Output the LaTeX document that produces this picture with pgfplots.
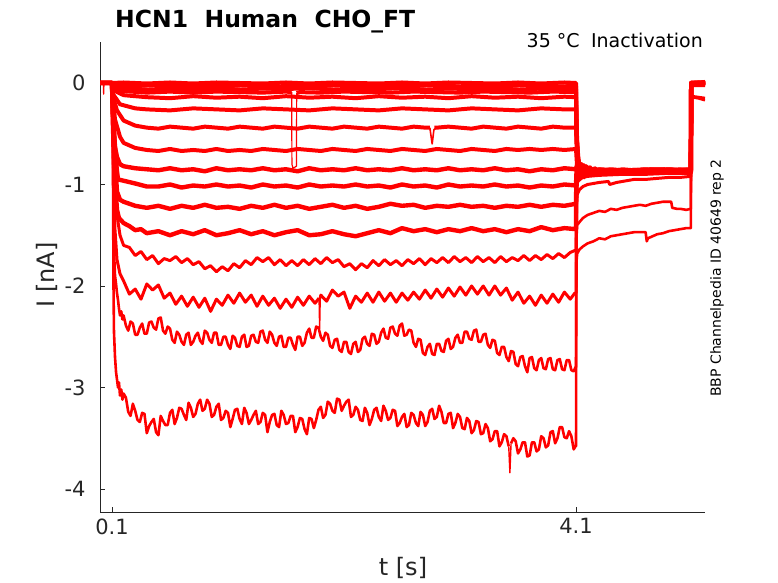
\documentclass[border=0pt]{standalone}
\usepackage{pgfplots}
\pgfplotsset{compat=1.18}
\usepackage{fontspec}
\setmainfont{DejaVu Sans}
\definecolor{axgray}{HTML}{262626}
\begin{document}
\begin{tikzpicture}[x=1bp,y=1bp]
\path[use as bounding box] (0,0) rectangle (778,583);
\begin{axis}[
  at={(100bp,71bp)}, anchor=south west,
  width=605bp, height=470bp, scale only axis,
  xmin=-0.0034, xmax=5.212, ymin=-4.2266, ymax=0.404,
  axis x line*=bottom, axis y line*=left,
  axis line style={axgray, line width=0.6pt, -},
  xtick={0.1,4.1}, xticklabels={0.1,4.1},
  ytick={-4,-3,-2,-1,0}, yticklabels={-4,-3,-2,-1,0},
  tick align=inside, major tick length=5bp,
  tick style={axgray, line width=0.6pt},
  ticklabel style={font=\fontsize{21bp}{25bp}\selectfont, text=axgray},
  yticklabel style={xshift=-11bp},
  xticklabel style={yshift=-3bp},
  /pgf/number format/assume math mode=true,
  every axis plot/.append style={red, no markers, line join=round},
]
% T1
\addplot[line width=4pt] coordinates {(-0.0034,0.00)(0.02,0.00)(0.1,0.00)(0.2,0.005)(0.4,-0.005)(0.6,0.005)(0.8,-0.005)(1.0,0.005)(1.2,0.0)(1.4,-0.005)(1.6,0.005)(1.8,-0.005)(2.0,0.005)(2.2,0.0)(2.4,-0.005)(2.6,0.005)(2.8,-0.005)(3.0,0.005)(3.2,0.0)(3.4,-0.005)(3.6,0.005)(3.8,-0.005)(4.0,0.005)(4.1,0.0)(4.104,-0.35)(4.11,-0.58)(4.12,-0.74)(4.135,-0.84)(4.15,-0.92)(4.17,-0.81)(4.19,-0.90)(4.22,-0.83)(4.26,-0.88)(4.3,-0.85)(4.4,-0.87)(4.5,-0.85)(4.6,-0.86)(4.7,-0.85)(4.8,-0.86)(4.9,-0.85)(5.0,-0.86)(5.09,-0.85)(5.093,0.0)(5.15,0.005)(5.212,0.0)};
\addplot[line width=1.2pt] coordinates {(0.022,0.00)(0.025,-0.01)(0.028,-0.11)(0.031,-0.01)(0.034,0.00)};
% T2
\addplot[line width=4pt] coordinates {(-0.0034,0.0)(0.1,0.0)(0.105,-0.02)(0.3,-0.03)(0.5,-0.02)(0.7,-0.035)(0.9,-0.025)(1.1,-0.03)(1.3,-0.02)(1.5,-0.035)(1.7,-0.025)(1.9,-0.03)(2.1,-0.02)(2.3,-0.035)(2.5,-0.025)(2.7,-0.03)(2.9,-0.02)(3.1,-0.035)(3.3,-0.025)(3.5,-0.03)(3.7,-0.02)(3.9,-0.035)(4.1,-0.03)(4.104,-0.40)(4.11,-0.62)(4.12,-0.78)(4.135,-0.90)(4.15,-0.80)(4.17,-0.93)(4.19,-0.83)(4.22,-0.89)(4.26,-0.84)(4.3,-0.87)(4.4,-0.85)(4.6,-0.87)(4.8,-0.86)(5.09,-0.87)(5.093,-0.01)(5.212,-0.01)};
% T3
\addplot[line width=4pt] coordinates {(-0.0034,0.0)(0.1,0.0)(0.105,-0.03)(0.2,-0.05)(0.4,-0.065)(0.6,-0.055)(0.8,-0.065)(1.0,-0.05)(1.2,-0.065)(1.4,-0.055)(1.6,-0.06)(1.8,-0.05)(2.0,-0.065)(2.2,-0.055)(2.4,-0.06)(2.6,-0.05)(2.8,-0.065)(3.0,-0.055)(3.2,-0.06)(3.4,-0.05)(3.6,-0.065)(3.8,-0.055)(4.0,-0.06)(4.1,-0.06)(4.104,-0.42)(4.11,-0.64)(4.12,-0.80)(4.135,-0.93)(4.15,-0.82)(4.17,-0.89)(4.19,-0.84)(4.22,-0.88)(4.26,-0.85)(4.3,-0.86)(4.5,-0.87)(4.7,-0.86)(4.9,-0.87)(5.09,-0.86)(5.093,0.0)(5.212,0.0)};
% T4 (with artifact, drawn thin)
\addplot[line width=4pt] coordinates {(-0.0034,0.0)(0.1,0.0)(0.105,-0.05)(0.2,-0.08)(0.4,-0.095)(0.6,-0.085)(0.8,-0.095)(1.0,-0.085)(1.2,-0.09)(1.4,-0.095)(1.6,-0.085)(1.649,-0.09)};
\addplot[line width=1.2pt] coordinates {(1.649,-0.09)(1.651,-0.80)(1.66,-0.84)(1.69,-0.82)(1.692,-0.10)};
\addplot[line width=4pt] coordinates {(1.692,-0.10)(1.72,-0.09)(1.9,-0.095)(2.1,-0.085)(2.3,-0.09)(2.5,-0.095)(2.7,-0.085)(2.9,-0.09)(3.1,-0.095)(3.3,-0.085)(3.5,-0.09)(3.7,-0.095)(3.9,-0.085)(4.1,-0.09)(4.104,-0.45)(4.11,-0.66)(4.12,-0.81)(4.135,-0.88)(4.15,-0.84)(4.17,-0.90)(4.2,-0.85)(4.25,-0.88)(4.3,-0.86)(4.5,-0.86)(4.8,-0.87)(5.09,-0.86)(5.093,-0.02)(5.212,-0.02)};
% T5
\addplot[line width=4pt] coordinates {(-0.0034,0.0)(0.1,0.0)(0.109,-0.07)(0.2,-0.12)(0.4,-0.14)(0.6,-0.15)(0.8,-0.13)(1.0,-0.145)(1.2,-0.135)(1.4,-0.15)(1.6,-0.13)(1.8,-0.145)(2.0,-0.135)(2.2,-0.15)(2.4,-0.13)(2.6,-0.145)(2.8,-0.135)(3.0,-0.15)(3.2,-0.13)(3.4,-0.145)(3.6,-0.135)(3.8,-0.15)(4.0,-0.135)(4.1,-0.14)(4.104,-0.46)(4.11,-0.66)(4.12,-0.79)(4.135,-0.87)(4.15,-0.81)(4.17,-0.89)(4.2,-0.84)(4.25,-0.87)(4.3,-0.85)(4.5,-0.86)(4.8,-0.85)(5.09,-0.86)(5.093,-0.01)(5.212,0.0)};
% T6
\addplot[line width=4pt] coordinates {(-0.0034,0.0)(0.1,0.0)(0.109,-0.11)(0.169,-0.21)(0.3,-0.25)(0.4,-0.26)(0.6,-0.27)(0.8,-0.25)(1.0,-0.26)(1.2,-0.27)(1.4,-0.25)(1.6,-0.26)(1.8,-0.27)(2.0,-0.25)(2.2,-0.26)(2.4,-0.27)(2.6,-0.25)(2.8,-0.26)(3.0,-0.27)(3.2,-0.25)(3.4,-0.26)(3.6,-0.27)(3.8,-0.25)(4.0,-0.26)(4.1,-0.26)(4.104,-0.45)(4.11,-0.62)(4.12,-0.76)(4.135,-0.86)(4.15,-0.83)(4.17,-0.90)(4.2,-0.84)(4.25,-0.88)(4.3,-0.86)(4.6,-0.86)(5.09,-0.85)(5.093,-0.01)(5.212,0.0)};
% T7
\addplot[line width=4pt] coordinates {(-0.0034,0.0)(0.1,0.0)(0.109,-0.14)(0.143,-0.27)(0.2,-0.37)(0.3,-0.42)(0.4,-0.44)(0.5,-0.45)(0.6,-0.43)(0.7,-0.44)(0.8,-0.45)(0.9,-0.43)(1.0,-0.44)(1.1,-0.45)(1.2,-0.43)(1.3,-0.44)(1.4,-0.45)(1.5,-0.43)(1.6,-0.44)(1.7,-0.45)(1.8,-0.43)(1.9,-0.44)(2.0,-0.45)(2.1,-0.43)(2.2,-0.44)(2.3,-0.45)(2.4,-0.43)(2.5,-0.44)(2.6,-0.45)(2.7,-0.43)(2.8,-0.44)(2.84,-0.44)};
\addplot[line width=1.6pt] coordinates {(2.84,-0.44)(2.86,-0.60)(2.875,-0.46)(2.9,-0.44)};
\addplot[line width=4pt] coordinates {(2.88,-0.44)(2.9,-0.44)(3.0,-0.43)(3.1,-0.44)(3.2,-0.45)(3.3,-0.43)(3.4,-0.44)(3.5,-0.45)(3.6,-0.43)(3.7,-0.44)(3.8,-0.45)(3.9,-0.43)(4.0,-0.44)(4.1,-0.44)(4.104,-0.6)(4.11,-0.75)(4.12,-0.85)(4.135,-0.95)(4.15,-0.80)(4.17,-0.92)(4.19,-0.82)(4.22,-0.89)(4.26,-0.84)(4.3,-0.87)(4.5,-0.86)(4.8,-0.87)(5.09,-0.86)(5.093,0.0)(5.212,0.0)};
% T8
\addplot[line width=4pt] coordinates {(-0.0034,0.0)(0.1,0.0)(0.109,-0.17)(0.126,-0.36)(0.169,-0.53)(0.2,-0.59)(0.3,-0.64)(0.4,-0.66)(0.5,-0.67)(0.6,-0.65)(0.7,-0.67)(0.8,-0.66)(0.9,-0.67)(1.0,-0.65)(1.1,-0.67)(1.2,-0.66)(1.3,-0.67)(1.4,-0.65)(1.5,-0.66)(1.6,-0.67)(1.7,-0.65)(1.8,-0.66)(1.9,-0.67)(2.0,-0.65)(2.1,-0.66)(2.2,-0.67)(2.3,-0.65)(2.4,-0.66)(2.5,-0.67)(2.6,-0.65)(2.7,-0.66)(2.8,-0.67)(2.9,-0.65)(3.0,-0.66)(3.1,-0.67)(3.2,-0.65)(3.3,-0.66)(3.4,-0.67)(3.5,-0.65)(3.6,-0.66)(3.7,-0.65)(3.8,-0.66)(3.9,-0.65)(4.0,-0.66)(4.1,-0.65)(4.105,-0.75)(4.11,-0.82)(4.12,-0.93)(4.13,-0.79)(4.15,-0.92)(4.17,-0.82)(4.2,-0.89)(4.25,-0.85)(4.3,-0.87)(4.5,-0.86)(4.8,-0.85)(5.09,-0.86)(5.093,0.0)(5.212,0.01)};
% T9
\addplot[line width=4.4pt] coordinates {(-0.0034,0.0)(0.1,0.0)(0.109,-0.27)(0.117,-0.47)(0.126,-0.63)(0.143,-0.73)(0.169,-0.80)(0.2,-0.82)(0.3,-0.84)(0.4,-0.85)(0.5,-0.86)(0.6,-0.84)(0.7,-0.86)(0.8,-0.85)(0.9,-0.87)(1.0,-0.84)(1.1,-0.86)(1.2,-0.85)(1.3,-0.86)(1.4,-0.84)(1.5,-0.86)(1.6,-0.85)(1.7,-0.87)(1.8,-0.84)(1.9,-0.86)(2.0,-0.85)(2.1,-0.86)(2.2,-0.84)(2.3,-0.86)(2.4,-0.85)(2.5,-0.86)(2.6,-0.84)(2.7,-0.86)(2.8,-0.85)(2.9,-0.86)(3.0,-0.84)(3.1,-0.86)(3.2,-0.85)(3.3,-0.86)(3.4,-0.84)(3.5,-0.86)(3.6,-0.85)(3.7,-0.87)(3.8,-0.85)(3.9,-0.86)(4.0,-0.84)(4.1,-0.85)(4.11,-0.80)(4.12,-0.93)(4.135,-0.80)(4.15,-0.91)(4.17,-0.83)(4.2,-0.88)(4.25,-0.85)(4.3,-0.87)(4.5,-0.86)(4.7,-0.86)(5.09,-0.86)(5.093,0.0)(5.212,0.0)};
% T10
\addplot[line width=4.4pt] coordinates {(-0.0034,0.0)(0.1,0.0)(0.109,-0.31)(0.126,-0.66)(0.143,-0.87)(0.152,-0.95)(0.3,-0.99)(0.4,-1.02)(0.5,-1.02)(0.6,-1.00)(0.7,-1.03)(0.8,-1.01)(0.9,-1.02)(1.0,-1.00)(1.1,-1.02)(1.2,-1.01)(1.3,-1.03)(1.4,-1.00)(1.5,-1.02)(1.6,-1.01)(1.7,-1.03)(1.8,-1.00)(1.9,-1.02)(2.0,-1.01)(2.1,-1.02)(2.2,-1.00)(2.3,-1.02)(2.4,-1.01)(2.5,-1.03)(2.6,-1.00)(2.7,-1.02)(2.8,-1.01)(2.9,-1.03)(3.0,-1.00)(3.1,-1.02)(3.2,-1.01)(3.3,-1.02)(3.4,-1.00)(3.5,-1.02)(3.6,-1.01)(3.7,-1.03)(3.8,-1.01)(3.9,-1.02)(4.0,-1.00)(4.1,-1.01)(4.103,-0.90)(4.11,-0.82)(4.12,-0.92)(4.13,-0.84)(4.15,-0.89)(4.17,-0.85)(4.2,-0.88)(4.3,-0.86)(4.5,-0.87)(4.7,-0.86)(5.09,-0.87)(5.093,-0.01)(5.212,0.0)};
% T11
\addplot[line width=4.4pt] coordinates {(-0.0034,0.0)(0.1,0.0)(0.109,-0.37)(0.126,-0.76)(0.143,-1.07)(0.169,-1.15)(0.2,-1.17)(0.3,-1.21)(0.4,-1.23)(0.5,-1.21)(0.6,-1.24)(0.7,-1.21)(0.8,-1.23)(0.9,-1.20)(1.0,-1.23)(1.1,-1.22)(1.2,-1.24)(1.3,-1.21)(1.4,-1.23)(1.5,-1.20)(1.6,-1.23)(1.7,-1.21)(1.8,-1.24)(1.9,-1.22)(2.0,-1.20)(2.1,-1.23)(2.2,-1.21)(2.3,-1.24)(2.4,-1.22)(2.5,-1.19)(2.6,-1.21)(2.7,-1.20)(2.8,-1.23)(2.9,-1.21)(3.0,-1.22)(3.1,-1.20)(3.2,-1.22)(3.3,-1.21)(3.4,-1.23)(3.5,-1.21)(3.6,-1.22)(3.7,-1.20)(3.8,-1.22)(3.9,-1.20)(4.0,-1.21)(4.1,-1.19)(4.103,-0.95)(4.11,-0.90)(4.13,-0.86)(4.15,-0.88)(4.2,-0.87)(4.4,-0.87)(4.7,-0.86)(5.09,-0.86)(5.093,0.0)(5.212,0.0)};
% T12
\addplot[line width=4.4pt] coordinates {(-0.0034,0.0)(0.1,0.0)(0.109,-0.46)(0.126,-0.96)(0.143,-1.25)(0.16,-1.33)(0.2,-1.38)(0.25,-1.41)(0.3,-1.45)(0.35,-1.44)(0.4,-1.48)(0.5,-1.46)(0.6,-1.50)(0.7,-1.46)(0.8,-1.49)(0.9,-1.45)(1.0,-1.50)(1.1,-1.48)(1.2,-1.45)(1.3,-1.49)(1.4,-1.46)(1.5,-1.50)(1.6,-1.47)(1.7,-1.45)(1.8,-1.50)(1.9,-1.49)(2.0,-1.46)(2.1,-1.49)(2.2,-1.51)(2.3,-1.48)(2.4,-1.45)(2.5,-1.48)(2.6,-1.43)(2.7,-1.46)(2.8,-1.44)(2.9,-1.47)(3.0,-1.44)(3.1,-1.46)(3.2,-1.43)(3.3,-1.46)(3.4,-1.44)(3.5,-1.47)(3.6,-1.44)(3.7,-1.46)(3.8,-1.42)(3.9,-1.45)(4.0,-1.43)(4.1,-1.44)(4.102,-1.1)(4.105,-1.0)(4.11,-0.95)(4.13,-0.92)(4.2,-0.90)(4.4,-0.89)(4.6,-0.88)(4.8,-0.88)(5.09,-0.88)(5.093,0.0)(5.212,0.0)};
% T13
\addplot[line width=3pt] coordinates {(-0.0034,0.0)(0.1,0.0)(0.109,-0.46)(0.126,-0.96)(0.143,-1.30)(0.169,-1.50)(0.20,-1.60)(0.25,-1.62)(0.30,-1.70)(0.35,-1.66)(0.40,-1.74)(0.45,-1.70)(0.50,-1.78)(0.55,-1.73)(0.60,-1.75)(0.65,-1.71)(0.70,-1.77)(0.75,-1.73)(0.80,-1.79)(0.85,-1.76)(0.90,-1.83)(0.95,-1.80)(1.00,-1.86)(1.05,-1.81)(1.10,-1.85)(1.15,-1.78)(1.20,-1.82)(1.25,-1.75)(1.30,-1.79)(1.35,-1.72)(1.40,-1.76)(1.45,-1.72)(1.50,-1.79)(1.55,-1.74)(1.60,-1.80)(1.65,-1.75)(1.70,-1.80)(1.75,-1.74)(1.80,-1.79)(1.85,-1.73)(1.90,-1.78)(1.95,-1.72)(2.00,-1.77)(2.05,-1.74)(2.10,-1.81)(2.15,-1.78)(2.20,-1.84)(2.25,-1.78)(2.30,-1.82)(2.35,-1.75)(2.40,-1.80)(2.45,-1.74)(2.50,-1.79)(2.55,-1.75)(2.60,-1.80)(2.65,-1.74)(2.70,-1.78)(2.75,-1.73)(2.80,-1.79)(2.85,-1.73)(2.90,-1.77)(2.95,-1.72)(3.00,-1.77)(3.05,-1.71)(3.10,-1.76)(3.15,-1.72)(3.20,-1.77)(3.25,-1.71)(3.30,-1.76)(3.35,-1.72)(3.40,-1.77)(3.45,-1.71)(3.50,-1.76)(3.55,-1.72)(3.60,-1.75)(3.65,-1.70)(3.70,-1.75)(3.75,-1.70)(3.80,-1.74)(3.85,-1.69)(3.90,-1.73)(3.95,-1.68)(4.00,-1.72)(4.05,-1.67)(4.09,-1.65)(4.1,-1.65)(4.102,-1.3)(4.105,-1.05)(4.11,-0.98)(4.13,-0.95)(4.16,-0.93)(4.2,-0.92)(4.3,-0.91)(4.5,-0.90)(4.7,-0.90)(4.9,-0.89)(5.09,-0.89)(5.093,0.0)(5.212,0.0)};
% T14
\addplot[line width=3pt] coordinates {(-0.0034,0.0)(0.1,0.0)(0.109,-0.66)(0.126,-1.45)(0.143,-1.74)(0.169,-1.88)(0.20,-1.95)(0.25,-2.08)(0.30,-2.03)(0.35,-2.13)(0.40,-1.98)(0.45,-2.04)(0.50,-1.99)(0.55,-2.12)(0.60,-2.07)(0.65,-2.18)(0.70,-2.10)(0.75,-2.20)(0.80,-2.11)(0.85,-2.21)(0.90,-2.12)(0.95,-2.25)(1.00,-2.13)(1.05,-2.19)(1.10,-2.09)(1.15,-2.17)(1.20,-2.07)(1.25,-2.16)(1.30,-2.09)(1.35,-2.20)(1.40,-2.10)(1.45,-2.19)(1.50,-2.12)(1.55,-2.22)(1.60,-2.13)(1.65,-2.21)(1.70,-2.11)(1.75,-2.19)(1.80,-2.10)(1.85,-2.17)(1.885,-2.12)};
\addplot[line width=1.4pt] coordinates {(1.885,-2.12)(1.89,-2.42)(1.895,-2.12)};
\addplot[line width=3pt] coordinates {(1.895,-2.12)(1.90,-2.09)(1.95,-2.15)(2.00,-2.04)(2.05,-2.10)(2.10,-2.06)(2.15,-2.22)(2.20,-2.10)(2.25,-2.16)(2.30,-2.07)(2.35,-2.16)(2.40,-2.06)(2.45,-2.15)(2.50,-2.07)(2.55,-2.16)(2.60,-2.07)(2.65,-2.14)(2.70,-2.06)(2.75,-2.13)(2.80,-2.04)(2.85,-2.12)(2.90,-2.03)(2.95,-2.11)(3.00,-2.02)(3.05,-2.10)(3.10,-2.01)(3.15,-2.09)(3.20,-2.00)(3.25,-2.08)(3.30,-2.00)(3.35,-2.09)(3.40,-2.00)(3.45,-2.09)(3.50,-2.02)(3.55,-2.14)(3.60,-2.06)(3.65,-2.17)(3.70,-2.10)(3.75,-2.19)(3.80,-2.09)(3.85,-2.17)(3.90,-2.08)(3.95,-2.16)(4.00,-2.06)(4.05,-2.13)(4.09,-2.07)(4.1,-2.07)(4.102,-1.5)(4.105,-1.2)(4.11,-1.10)(4.13,-1.05)(4.16,-1.02)(4.2,-1.00)(4.3,-0.98)(4.38,-0.97)(4.39,-1.00)(4.45,-0.98)(4.5,-0.97)(4.6,-0.95)(4.7,-0.95)(4.8,-0.94)(4.9,-0.93)(5.0,-0.93)(5.09,-0.92)(5.093,-0.13)(5.15,-0.14)(5.212,-0.15)};
% T15
\addplot[line width=2.6pt] coordinates {(-0.0034,0.0)(0.1,0.0)(0.105,-0.40)(0.109,-0.80)(0.117,-1.65)(0.126,-1.90)(0.134,-1.97)(0.143,-2.07)(0.152,-2.14)(0.16,-2.22)(0.169,-2.29)(0.18,-2.25)(0.19,-2.33)(0.20,-2.29)(0.22,-2.39)(0.24,-2.44)(0.26,-2.35)(0.28,-2.37)(0.30,-2.48)(0.32,-2.48)(0.34,-2.41)(0.36,-2.37)(0.38,-2.47)(0.40,-2.47)(0.42,-2.36)(0.44,-2.35)(0.46,-2.41)(0.48,-2.43)(0.50,-2.32)(0.52,-2.31)(0.54,-2.44)(0.56,-2.47)(0.58,-2.40)(0.60,-2.42)(0.62,-2.53)(0.64,-2.56)(0.66,-2.45)(0.68,-2.48)(0.70,-2.55)(0.72,-2.58)(0.74,-2.48)(0.76,-2.46)(0.78,-2.58)(0.80,-2.55)(0.82,-2.49)(0.84,-2.46)(0.86,-2.54)(0.88,-2.57)(0.90,-2.44)(0.92,-2.46)(0.94,-2.53)(0.96,-2.56)(0.98,-2.46)(1.00,-2.46)(1.02,-2.58)(1.04,-2.58)(1.06,-2.50)(1.08,-2.50)(1.10,-2.58)(1.12,-2.62)(1.14,-2.49)(1.16,-2.51)(1.18,-2.59)(1.20,-2.60)(1.22,-2.50)(1.24,-2.48)(1.26,-2.60)(1.28,-2.59)(1.30,-2.49)(1.32,-2.48)(1.34,-2.55)(1.36,-2.56)(1.38,-2.45)(1.40,-2.44)(1.42,-2.53)(1.44,-2.56)(1.46,-2.45)(1.48,-2.48)(1.50,-2.56)(1.52,-2.59)(1.54,-2.50)(1.56,-2.49)(1.58,-2.60)(1.60,-2.60)(1.62,-2.51)(1.64,-2.51)(1.66,-2.58)(1.68,-2.63)(1.70,-2.50)(1.72,-2.50)(1.74,-2.59)(1.76,-2.56)(1.78,-2.46)(1.80,-2.42)(1.82,-2.51)(1.84,-2.51)(1.86,-2.40)(1.88,-2.41)(1.90,-2.50)(1.92,-2.54)(1.94,-2.46)(1.96,-2.48)(1.98,-2.59)(2.00,-2.61)(2.02,-2.53)(2.04,-2.52)(2.06,-2.63)(2.08,-2.65)(2.10,-2.55)(2.12,-2.55)(2.14,-2.65)(2.16,-2.67)(2.18,-2.57)(2.20,-2.55)(2.22,-2.65)(2.24,-2.63)(2.26,-2.52)(2.28,-2.50)(2.30,-2.57)(2.32,-2.59)(2.34,-2.47)(2.36,-2.48)(2.38,-2.57)(2.40,-2.55)(2.42,-2.46)(2.44,-2.42)(2.46,-2.51)(2.48,-2.52)(2.50,-2.41)(2.52,-2.40)(2.54,-2.47)(2.56,-2.49)(2.58,-2.39)(2.60,-2.37)(2.62,-2.49)(2.64,-2.48)(2.66,-2.43)(2.68,-2.44)(2.70,-2.56)(2.72,-2.60)(2.74,-2.52)(2.76,-2.53)(2.78,-2.66)(2.80,-2.68)(2.82,-2.60)(2.84,-2.57)(2.86,-2.67)(2.88,-2.68)(2.90,-2.57)(2.92,-2.57)(2.94,-2.64)(2.96,-2.65)(2.98,-2.54)(3.00,-2.52)(3.02,-2.62)(3.04,-2.60)(3.06,-2.51)(3.08,-2.48)(3.10,-2.56)(3.12,-2.56)(3.14,-2.45)(3.16,-2.45)(3.18,-2.52)(3.20,-2.53)(3.22,-2.44)(3.24,-2.43)(3.26,-2.55)(3.28,-2.55)(3.30,-2.48)(3.32,-2.47)(3.34,-2.58)(3.36,-2.61)(3.38,-2.53)(3.40,-2.54)(3.42,-2.66)(3.44,-2.68)(3.46,-2.60)(3.48,-2.60)(3.50,-2.70)(3.52,-2.74)(3.54,-2.64)(3.56,-2.65)(3.58,-2.77)(3.60,-2.79)(3.62,-2.70)(3.64,-2.69)(3.66,-2.79)(3.68,-2.85)(3.70,-2.71)(3.72,-2.70)(3.74,-2.81)(3.76,-2.83)(3.78,-2.73)(3.80,-2.71)(3.82,-2.81)(3.84,-2.82)(3.86,-2.72)(3.88,-2.71)(3.90,-2.82)(3.92,-2.83)(3.94,-2.73)(3.96,-2.72)(3.98,-2.82)(4.00,-2.83)(4.02,-2.73)(4.04,-2.73)(4.06,-2.83)(4.08,-2.84)(4.095,-2.80)(4.1,-2.80)(4.102,-1.8)(4.105,-1.50)(4.11,-1.40)(4.13,-1.37)(4.16,-1.33)(4.2,-1.30)(4.25,-1.28)(4.3,-1.26)(4.35,-1.27)(4.4,-1.24)(4.45,-1.25)(4.5,-1.23)(4.55,-1.22)(4.6,-1.21)(4.65,-1.20)(4.7,-1.21)(4.75,-1.19)(4.8,-1.18)(4.85,-1.17)(4.92,-1.17)(4.93,-1.23)(4.97,-1.24)(5.0,-1.24)(5.05,-1.25)(5.09,-1.24)(5.093,-0.14)(5.15,-0.15)(5.212,-0.17)};
% T16
\addplot[line width=2.6pt] coordinates {(-0.0034,0.0)(0.1,0.0)(0.105,-0.30)(0.109,-1.00)(0.113,-2.00)(0.117,-2.45)(0.126,-2.70)(0.135,-2.85)(0.143,-2.92)(0.152,-3.00)(0.16,-2.95)(0.169,-3.08)(0.18,-3.02)(0.19,-3.12)(0.20,-3.06)(0.22,-3.10)(0.24,-3.24)(0.26,-3.28)(0.28,-3.16)(0.30,-3.23)(0.32,-3.32)(0.34,-3.34)(0.36,-3.25)(0.38,-3.26)(0.40,-3.45)(0.42,-3.38)(0.44,-3.34)(0.46,-3.31)(0.48,-3.44)(0.50,-3.47)(0.52,-3.28)(0.54,-3.33)(0.56,-3.37)(0.58,-3.37)(0.60,-3.25)(0.62,-3.22)(0.64,-3.36)(0.66,-3.30)(0.68,-3.20)(0.70,-3.21)(0.72,-3.27)(0.74,-3.32)(0.76,-3.15)(0.78,-3.20)(0.80,-3.29)(0.82,-3.26)(0.84,-3.16)(0.86,-3.12)(0.88,-3.23)(0.90,-3.21)(0.92,-3.12)(0.94,-3.16)(0.96,-3.29)(0.98,-3.27)(1.00,-3.19)(1.02,-3.16)(1.04,-3.32)(1.06,-3.30)(1.08,-3.23)(1.10,-3.25)(1.12,-3.39)(1.14,-3.31)(1.16,-3.22)(1.18,-3.21)(1.20,-3.31)(1.22,-3.36)(1.24,-3.20)(1.26,-3.25)(1.28,-3.36)(1.30,-3.32)(1.32,-3.27)(1.34,-3.23)(1.36,-3.36)(1.38,-3.34)(1.40,-3.25)(1.42,-3.27)(1.44,-3.44)(1.46,-3.34)(1.48,-3.27)(1.50,-3.26)(1.52,-3.37)(1.54,-3.39)(1.56,-3.23)(1.58,-3.27)(1.60,-3.36)(1.62,-3.35)(1.64,-3.28)(1.66,-3.28)(1.68,-3.44)(1.70,-3.39)(1.72,-3.30)(1.74,-3.31)(1.76,-3.41)(1.78,-3.46)(1.80,-3.30)(1.82,-3.31)(1.84,-3.40)(1.86,-3.32)(1.88,-3.22)(1.90,-3.19)(1.92,-3.30)(1.94,-3.27)(1.96,-3.14)(1.98,-3.16)(2.00,-3.23)(2.02,-3.25)(2.04,-3.11)(2.06,-3.12)(2.08,-3.23)(2.10,-3.18)(2.12,-3.14)(2.14,-3.12)(2.16,-3.29)(2.18,-3.27)(2.20,-3.19)(2.22,-3.22)(2.24,-3.32)(2.26,-3.33)(2.28,-3.20)(2.30,-3.25)(2.32,-3.37)(2.34,-3.31)(2.36,-3.22)(2.38,-3.20)(2.40,-3.29)(2.42,-3.33)(2.44,-3.18)(2.46,-3.23)(2.48,-3.32)(2.50,-3.30)(2.52,-3.22)(2.54,-3.23)(2.56,-3.38)(2.58,-3.35)(2.60,-3.29)(2.62,-3.26)(2.64,-3.39)(2.66,-3.37)(2.68,-3.25)(2.70,-3.27)(2.72,-3.35)(2.74,-3.38)(2.76,-3.24)(2.78,-3.27)(2.80,-3.38)(2.82,-3.34)(2.84,-3.23)(2.86,-3.21)(2.88,-3.31)(2.90,-3.29)(2.92,-3.18)(2.94,-3.24)(2.96,-3.35)(2.98,-3.35)(3.00,-3.26)(3.02,-3.25)(3.04,-3.40)(3.06,-3.35)(3.08,-3.26)(3.10,-3.29)(3.12,-3.40)(3.14,-3.41)(3.16,-3.30)(3.18,-3.33)(3.20,-3.45)(3.22,-3.42)(3.24,-3.33)(3.26,-3.34)(3.28,-3.46)(3.30,-3.45)(3.32,-3.36)(3.34,-3.40)(3.36,-3.53)(3.38,-3.51)(3.40,-3.43)(3.42,-3.43)(3.44,-3.58)(3.46,-3.54)(3.48,-3.46)(3.50,-3.48)(3.52,-3.58)};
\addplot[line width=1.4pt] coordinates {(3.52,-3.58)(3.53,-3.84)(3.54,-3.55)};
\addplot[line width=2.6pt] coordinates {(3.54,-3.55)(3.56,-3.50)(3.58,-3.53)(3.60,-3.65)(3.62,-3.61)(3.64,-3.54)(3.66,-3.54)(3.68,-3.68)(3.70,-3.67)(3.72,-3.54)(3.74,-3.54)(3.76,-3.63)(3.78,-3.61)(3.80,-3.48)(3.82,-3.50)(3.84,-3.59)(3.86,-3.57)(3.88,-3.44)(3.90,-3.43)(3.92,-3.55)(3.94,-3.50)(3.96,-3.39)(3.98,-3.39)(4.00,-3.49)(4.02,-3.50)(4.04,-3.43)(4.06,-3.48)(4.08,-3.61)(4.095,-3.58)(4.1,-3.58)(4.102,-2.2)(4.105,-1.75)(4.11,-1.68)(4.13,-1.64)(4.16,-1.61)(4.2,-1.58)(4.25,-1.56)(4.3,-1.53)(4.35,-1.54)(4.4,-1.51)(4.45,-1.50)(4.5,-1.49)(4.55,-1.48)(4.6,-1.47)(4.7,-1.47)(4.71,-1.56)(4.72,-1.53)(4.76,-1.51)(4.8,-1.49)(4.85,-1.48)(4.9,-1.46)(4.95,-1.45)(5.0,-1.44)(5.05,-1.43)(5.09,-1.43)(5.093,-0.02)(5.15,0.0)(5.212,-0.01)};
\end{axis}
\node[anchor=base west, inner sep=0pt, font=\fontsize{23.5bp}{28bp}\selectfont\bfseries, text=black] at (115,555) {HCN1\hspace{0.35em}\hspace{0.35em}Human\hspace{0.35em}\hspace{0.35em}CHO\_FT};
\node[anchor=base east, inner sep=0pt, font=\fontsize{19bp}{23bp}\selectfont, text=black] at (703,535) {35 °C\hspace{0.6em}Inactivation};
\node[rotate=90, font=\fontsize{24bp}{28bp}\selectfont, text=axgray] at (47,308) {I [nA]};
\node[anchor=base, font=\fontsize{24bp}{28bp}\selectfont, text=axgray] at (403,7) {t [s]};
\node[rotate=90, font=\fontsize{14bp}{17bp}\selectfont, text=black] at (717,305) {BBP Channelpedia ID 40649 rep 2};
\end{tikzpicture}
\end{document}
